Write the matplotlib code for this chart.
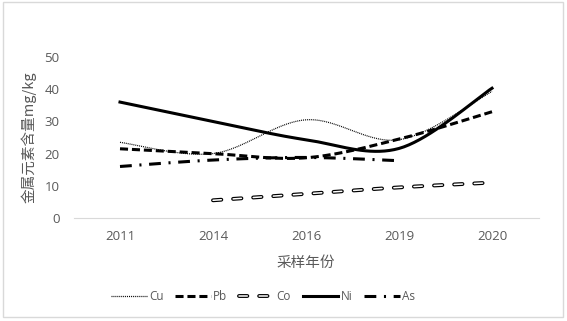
import numpy as np
import matplotlib
matplotlib.use("Agg")
import matplotlib.pyplot as plt
from matplotlib.patches import Rectangle
from matplotlib.lines import Line2D

plt.rcParams['font.family'] = ['Open Sans', 'Noto Sans CJK SC', 'DejaVu Sans']
plt.rcParams['lines.scale_dashes'] = False

years = ['2011', '2014', '2016', '2019', '2020']
cu = [23.5, 20.0, 30.5, 24.3, 39.3]
pb = [21.5, 20.0, 18.7, 24.5, 33.0]
co = [None, 5.5, 7.5, 9.5, 11.0]
ni = [36.0, 30.0, 24.3, 21.6, 40.3]
as_ = [16.0, 18.0, 18.8, 17.8, None]


def smooth(vals, n=40):
    # excel-like smoothed line: bezier through points, control = +/- (next-prev)/6
    pts = [(i, v) for i, v in enumerate(vals) if v is not None]
    p = np.array(pts, dtype=float)
    xs, ys = [], []
    for k in range(len(p) - 1):
        p0 = p[k - 1] if k > 0 else p[k]
        p1, p2 = p[k], p[k + 1]
        p3 = p[k + 2] if k + 2 < len(p) else p[k + 1]
        c1 = p1 + (p2 - p0) / 6
        c2 = p2 - (p3 - p1) / 6
        t = np.linspace(0, 1, n)[:, None]
        b = (1 - t) ** 3 * p1 + 3 * (1 - t) ** 2 * t * c1 + 3 * (1 - t) * t ** 2 * c2 + t ** 3 * p2
        xs.extend(b[:, 0]); ys.extend(b[:, 1])
    return np.array(xs), np.array(ys)


fig = plt.figure(figsize=(5.67, 3.21), dpi=100)
ax = fig.add_axes([73.5 / 567, 1 - 218 / 321, 465 / 567, 161 / 321])

gray = '#595959'
styles = {
    'Cu': dict(color='black', lw=0.9, dashes=(0.7, 0.7)),
    'Pb': dict(color='black', lw=2.2, dashes=(5.8, 2.8)),
    'Ni': dict(color='black', lw=2.2),
    'As': dict(color='black', lw=2.2, dashes=(8.5, 5.5, 1.5, 5.5)),
}
co_out = dict(color='black', lw=2.8, dashes=(6.0, 8.5), dash_capstyle='round')
co_in = dict(color='white', lw=1.1, dashes=(6.0, 8.5), dash_capstyle='round')

x, y = smooth(cu)
ax.plot(x, y, **styles['Cu'])
x, y = smooth(pb)
ax.plot(x, y, **styles['Pb'])
x, y = smooth(co)
ax.plot(x, y, **co_out)
ax.plot(x, y, **co_in)
x, y = smooth(ni)
ax.plot(x, y, **styles['Ni'])
x, y = smooth(as_)
ax.plot(x, y, **styles['As'])

ax.set_xlim(-0.5, 4.5)
ax.set_ylim(0, 50)
ax.set_yticks(range(0, 51, 10))
ax.set_xticks(range(len(years)))
ax.set_xticklabels(years)
for s in ['top', 'right', 'left']:
    ax.spines[s].set_visible(False)
ax.spines['bottom'].set_color('#d9d9d9')
ax.tick_params(axis='both', length=0, colors=gray, labelsize=9.5)
ax.tick_params(axis='y', pad=10)
ax.tick_params(axis='x', pad=9)
ax.set_ylabel('金属元素含量mg/kg', color=gray, fontsize=10.5,
              family=['Noto Sans CJK SC', 'DejaVu Sans'], labelpad=6)
ax.set_xlabel('采样年份', color=gray, fontsize=10.5,
              family=['Noto Sans CJK SC', 'DejaVu Sans'], labelpad=9)

handles = [
    Line2D([], [], **styles['Cu']),
    Line2D([], [], **styles['Pb']),
    (Line2D([], [], **co_out), Line2D([], [], **co_in)),
    Line2D([], [], **styles['Ni']),
    Line2D([], [], **styles['As']),
]
leg = fig.legend(handles, ['Cu', 'Pb', 'Co', 'Ni', 'As'], loc='center',
                 bbox_to_anchor=(263 / 567, 1 - 297 / 321), ncol=5, frameon=False,
                 fontsize=8.5, handlelength=3.0, handletextpad=0.2, columnspacing=1.0)
for t in leg.get_texts():
    t.set_color(gray)

fig.patches.append(Rectangle((3 / 567, 4 / 321), 560 / 567, 315 / 321,
                             transform=fig.transFigure, fill=False,
                             edgecolor='#d9d9d9', lw=1))

fig.savefig('out.png', dpi=100)
